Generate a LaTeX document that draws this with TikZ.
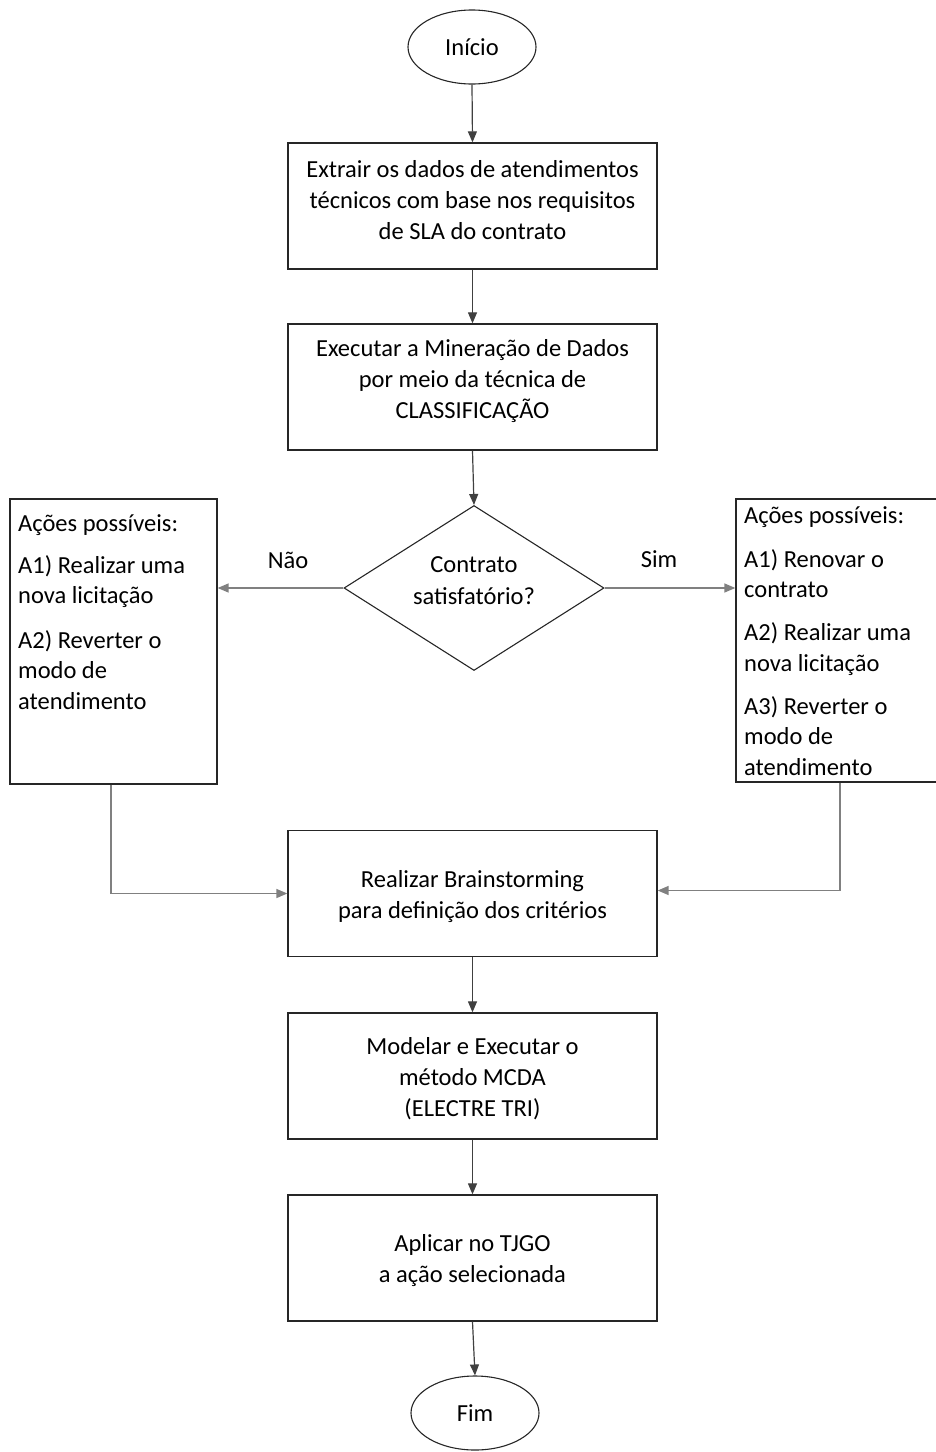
\documentclass[tikz,border=0pt]{standalone}
\usepackage{fontspec}
\setmainfont{Carlito}
\usetikzlibrary{arrows.meta,shapes.geometric}
\begin{document}
\begin{tikzpicture}[x=1pt,y=-1pt,
  every node/.style={font=\fontsize{24.5}{31}\selectfont, text=black},
  procbox/.style={draw=black!85, line width=1.3pt, rectangle, minimum width=369pt, minimum height=126pt, inner sep=0pt},
  boxtext/.style={align=center, inner sep=0pt},
  sidebox/.style={draw=black!85, line width=1.3pt, rectangle, inner sep=0pt},
  term/.style={draw=black!85, line width=1.1pt, ellipse, minimum width=128pt, minimum height=74pt, inner sep=0pt},
  decis/.style={draw=black!85, line width=1.1pt, diamond, minimum width=260pt, minimum height=165pt, inner sep=0pt},
  sidetext/.style={align=left, anchor=north west, inner sep=0pt, font=\fontsize{24.5}{30.5}\selectfont},
  flow/.style={draw=black!75, line width=1.2pt, -{Triangle[length=11pt,width=9pt]}},
  gflow/.style={draw=black!50, line width=1.4pt, -{Triangle[length=11pt,width=9pt]}},
  lbl/.style={inner sep=0pt}
]
\useasboundingbox (0,0) rectangle (936,1452);
\clip (0,0) rectangle (936,1452);

\node[term] (ini) at (472,47) {Início};

\node[procbox] (b1) at (472.5,206) {};
\node[boxtext] (t1) at (472.5,200.5) {Extrair os dados de atendimentos\\técnicos com base nos requisitos\\de SLA do contrato};

\node[procbox] (b2) at (472.5,387) {};
\node[boxtext] (t2) at (472.5,381.5) {Executar a Mineração de Dados\\por meio da técnica de\\CLASSIFICAÇÃO};

\node[decis] (dec) at (474,588) {};
\node[boxtext, font=\fontsize{24.5}{32}\selectfont] (tdec) at (474,581) {Contrato\\satisfatório?};

\node[sidebox, minimum width=207pt, minimum height=285pt] (lbox) at (113.5,641.5) {};
\node[sidetext] (ltxt) at (18,514.5) {Ações possíveis:\\[11pt]A1) Realizar uma\\nova licitação\\[14pt]A2) Reverter o\\modo de\\atendimento};

\node[sidebox, minimum width=220pt, minimum height=283pt] (rbox) at (846,640.5) {};
\node[sidetext] (rtxt) at (744,506) {Ações possíveis:\\[13.5pt]A1) Renovar o\\contrato\\[12.5pt]A2) Realizar uma\\nova licitação\\[12.5pt]A3) Reverter o\\modo de\\atendimento};

\node[lbl] (nao) at (288,560) {Não};
\node[lbl] (sim) at (659,559) {Sim};

\node[procbox] (b3) at (472.5,893.5) {};
\node[boxtext] (t3) at (472.5,897) {Realizar Brainstorming\\para definição dos critérios};

\node[procbox] (b4) at (472.5,1076) {};
\node[boxtext] (t4) at (472.5,1079) {Modelar e Executar o\\método MCDA\\(ELECTRE TRI)};

\node[procbox] (b5) at (472.5,1258) {};
\node[boxtext] (t5) at (472.5,1261) {Aplicar no TJGO\\a ação selecionada};

\node[term] (fim) at (475,1413) {Fim};

\draw[flow] (ini.south) -- (b1.north);
\draw[flow] (b1.south) -- (b2.north);
\draw[flow] (b2.south) -- (dec.north);
\draw[gflow] (dec.west) -- (lbox.east |- dec.west);
\draw[gflow] (dec.east) -- (rbox.west |- dec.east);
\draw[gflow] (lbox.south -| 111,0) |- (b3.west);
\draw[gflow] (rbox.south -| 840,0) |- ([yshift=3pt]b3.east);
\draw[flow] (b3.south) -- (b4.north);
\draw[flow] (b4.south) -- (b5.north);
\draw[flow] (b5.south) -- (fim.north);
\end{tikzpicture}
\end{document}
